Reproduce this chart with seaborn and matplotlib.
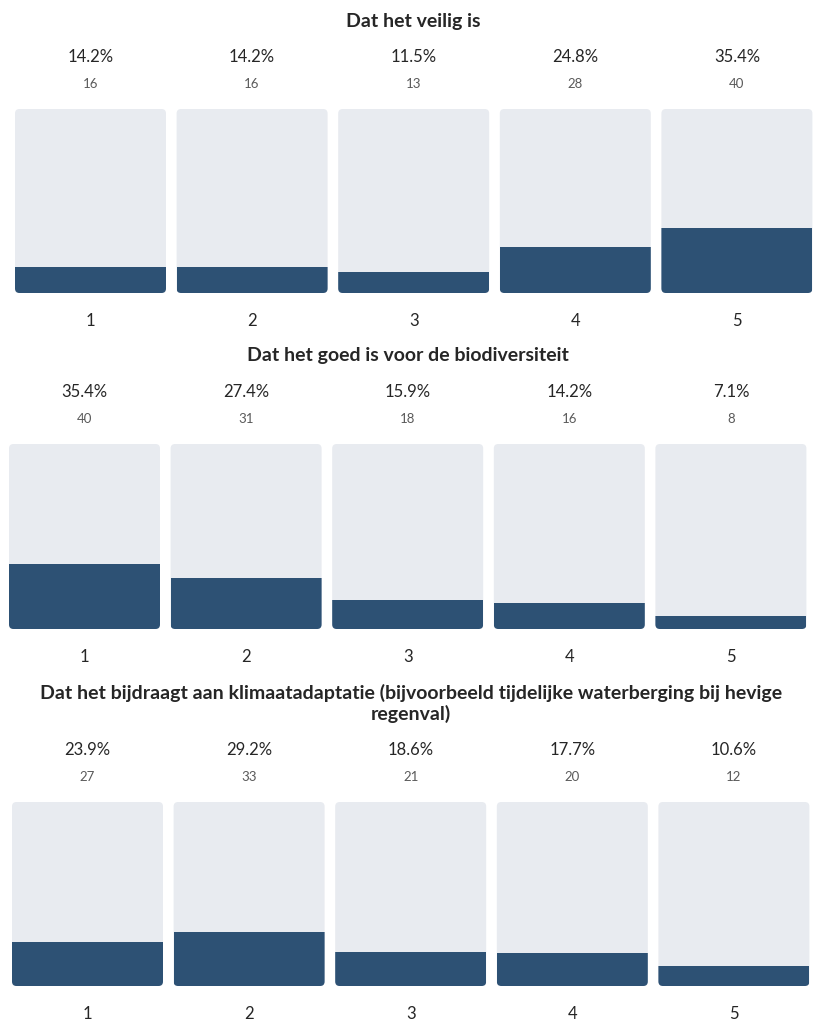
import matplotlib
matplotlib.use("Agg")
import matplotlib.pyplot as plt
from matplotlib.patches import FancyBboxPatch
import pandas as pd
import seaborn as sns

# ---------- DATA ----------
categories = ["1", "2", "3", "4", "5"]

titles = [
    "Dat het veilig is",
    "Dat het goed is voor de biodiversiteit",
    "Dat het bijdraagt aan klimaatadaptatie (bijvoorbeeld tijdelijke waterberging bij hevige\nregenval)",
]

pct_veilig = [14.2, 14.2, 11.5, 24.8, 35.4]
cnt_veilig = [16, 16, 13, 28, 40]

pct_bio = [35.4, 27.4, 15.9, 14.2, 7.1]
cnt_bio = [40, 31, 18, 16, 8]

pct_klimaat = [23.9, 29.2, 18.6, 17.7, 10.6]
cnt_klimaat = [27, 33, 21, 20, 12]

BG = "#e8ebf0"
FILL = "#2d5174"
TEXT = "#262626"
GREY = "#5a5a5a"

W, H = 830, 1034
# panel layout in pixels: axes left, bar top, bar bottom, title offset
layout = [
    (9.7, 109, 293, 88),
    (3.7, 444, 629, 88),
    (6.7, 802, 986, 98.5),
]
AX_W = 808
BAR_W = 151 / (AX_W / 5)

sns.set_theme(style="white")
plt.rcParams["font.family"] = ["Lato", "DejaVu Sans"]

fig = plt.figure(figsize=(W / 100, H / 100), dpi=100)
fig.patch.set_facecolor("white")


def draw_panel(title, pcts, counts, left, top, bottom, title_off):
    height = bottom - top
    ax = fig.add_axes([left / W, (H - bottom) / H, AX_W / W, height / H])
    df = pd.DataFrame({"cat": categories, "pct": pcts, "full": [100] * len(pcts)})

    # grey background bars, turned into rounded boxes
    sns.barplot(data=df, x="cat", y="full", color=BG, width=BAR_W,
                saturation=1, linewidth=0, ax=ax)
    rects = list(ax.patches)
    rounded = []
    aspect = (100 / height) * (AX_W / 5)
    for r in rects:
        box = FancyBboxPatch((r.get_x(), 0), r.get_width(), r.get_height(),
                             boxstyle="round,pad=0,rounding_size=%f" % (4.5 / (AX_W / 5)),
                             mutation_aspect=aspect, facecolor=BG, edgecolor="none",
                             zorder=1)
        ax.add_patch(box)
        rounded.append(box)
        r.remove()

    n = len(ax.patches)
    sns.barplot(data=df, x="cat", y="pct", color=FILL, width=BAR_W,
                saturation=1, linewidth=0, ax=ax)
    for bar, box in zip(ax.patches[n:], rounded):
        bar.set_zorder(2)
        bar.set_clip_path(box)

    ax.set_xlim(-0.5, len(categories) - 0.5)
    ax.set_ylim(0, 100)
    ax.axis("off")

    for i, (p, c) in enumerate(zip(pcts, counts)):
        ax.annotate(f"{p:.1f}%", xy=(i, 1), xycoords=("data", "axes fraction"),
                    xytext=(0, 52), textcoords="offset pixels",
                    ha="center", va="center", fontsize=12, color=TEXT)
        ax.annotate(str(c), xy=(i, 1), xycoords=("data", "axes fraction"),
                    xytext=(0, 25), textcoords="offset pixels",
                    ha="center", va="center", fontsize=9.5, color=GREY)
        ax.annotate(categories[i], xy=(i, 0), xycoords=("data", "axes fraction"),
                    xytext=(0, -28), textcoords="offset pixels",
                    ha="center", va="center", fontsize=12, color=TEXT)

    ax.annotate(title, xy=(0.5, 1), xycoords="axes fraction",
                xytext=(0, title_off), textcoords="offset pixels",
                ha="center", va="center", fontsize=14, fontweight="bold",
                color=TEXT, linespacing=1.25)


panels = [
    (titles[0], pct_veilig, cnt_veilig),
    (titles[1], pct_bio, cnt_bio),
    (titles[2], pct_klimaat, cnt_klimaat),
]
for (t, p, c), (left, top, bottom, toff) in zip(panels, layout):
    draw_panel(t, p, c, left, top, bottom, toff)

fig.savefig("out.png", dpi=100, facecolor="white")
